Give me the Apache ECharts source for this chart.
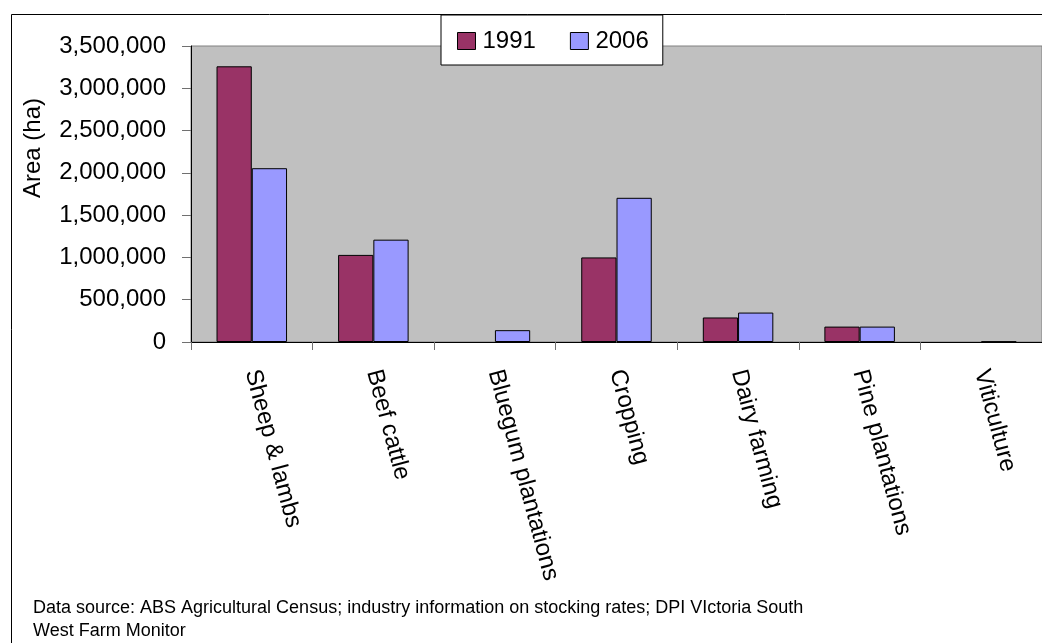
<!DOCTYPE html>
<html>
<head>
<meta charset="utf-8">
<script src="https://cdn.jsdelivr.net/npm/echarts@6/dist/echarts.min.js"></script>
<style>
  html, body { margin: 0; padding: 0; background: #fff; }
  #chart { width: 1042px; height: 643px; }
</style>
</head>
<body>
<div id="chart"></div>
<script>
// Land use by enterprise, hectares
const categories = ['Sheep & lambs', 'Beef cattle', 'Bluegum plantations', 'Cropping', 'Dairy farming', 'Pine plantations', 'Viticulture'];
const area1991 = [3260000, 1030000, 0, 1000000, 290000, 182000, 0];
const area2006 = [2055000, 1210000, 140000, 1705000, 348000, 182000, 6000];
const seriesNames = ['1991', '2006'];
const yTicks = { min: 0, max: 3500000, interval: 500000 };
const axisTitle = 'Area (ha)';
const sourceNote = ['Data source: ABS Agricultural Census; industry information on stocking rates; DPI VIctoria South', 'West Farm Monitor'];

const FONT = '"Liberation Sans", Arial, sans-serif';
const chart = echarts.init(document.getElementById('chart'), null, { renderer: 'canvas' });

// empty bars get no outline so nothing is drawn for them
const toBarData = values => values.map(v => v === 0 ? { value: v, itemStyle: { borderWidth: 0 } } : v);

chart.setOption({
  backgroundColor: '#ffffff',
  animation: false,
  textStyle: { fontFamily: FONT },
  grid: {
    left: 191, top: 46, width: 857, height: 296,
    show: true, backgroundColor: '#C0C0C0', borderColor: '#808080', borderWidth: 1,
    containLabel: false
  },
  legend: {
    data: seriesNames,
    left: 441, top: 15,
    width: 224,
    padding: [14, 14, 12, 16],
    backgroundColor: '#ffffff',
    borderColor: '#000000', borderWidth: 1,
    itemWidth: 18, itemHeight: 17, itemGap: 34,
    icon: 'rect',
    itemStyle: { borderColor: '#000000', borderWidth: 1 },
    textStyle: { fontSize: 24, color: '#000', fontFamily: FONT, padding: [0, 0, 0, 2] }
  },
  xAxis: {
    type: 'category',
    data: categories,
    axisLine: { lineStyle: { color: '#000', width: 1 } },
    axisTick: { show: true, alignWithLabel: false, length: 8, lineStyle: { color: '#707070' } },
    axisLabel: {
      interval: 0, rotate: -75, margin: 28, hideOverlap: false,
      fontSize: 24, color: '#000', fontFamily: FONT
    },
    splitLine: { show: false }
  },
  yAxis: {
    type: 'value',
    min: yTicks.min, max: yTicks.max, interval: yTicks.interval,
    axisLine: { show: true, lineStyle: { color: '#000', width: 1 } },
    axisTick: { show: true, inside: false, length: 9, lineStyle: { color: '#707070' } },
    axisLabel: {
      margin: 25, fontSize: 24, color: '#000', fontFamily: FONT,
      formatter: v => v.toLocaleString('en-US')
    },
    splitLine: { show: false }
  },
  series: [
    {
      name: seriesNames[0], type: 'bar', data: toBarData(area1991),
      barGap: '0%', barCategoryGap: '42%',
      itemStyle: { color: '#993366', borderColor: '#000000', borderWidth: 1 }
    },
    {
      name: seriesNames[1], type: 'bar', data: toBarData(area2006),
      barGap: '0%', barCategoryGap: '42%',
      itemStyle: { color: '#9999FF', borderColor: '#000000', borderWidth: 1 }
    }
  ],
  graphic: [
    {
      type: 'rect', silent: true, z: 0,
      shape: { x: 11.5, y: 14.5, width: 1100, height: 700 },
      style: { fill: 'none', stroke: '#000', lineWidth: 1 }
    },
    {
      type: 'text', x: 33, y: 148, rotation: Math.PI / 2,
      style: { text: axisTitle, font: '24px ' + FONT, fill: '#000', align: 'center', verticalAlign: 'middle' }
    },
    {
      type: 'text', x: 33, y: 597,
      style: { text: sourceNote.join('\n'), font: '18px ' + FONT, lineHeight: 23, fill: '#000', align: 'left', verticalAlign: 'top' }
    }
  ]
});
</script>
</body>
</html>
